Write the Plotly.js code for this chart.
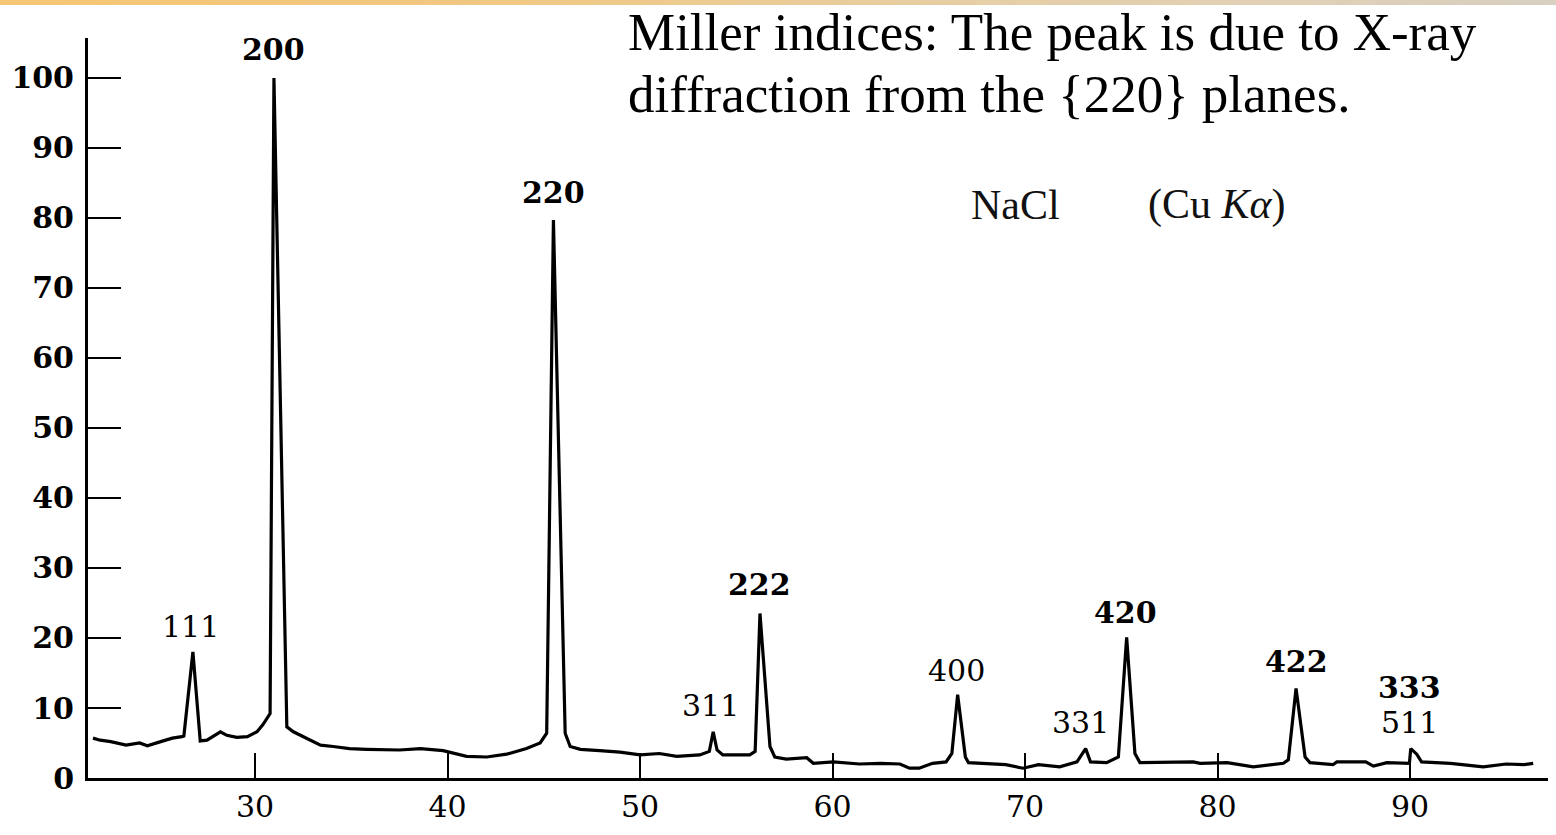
<!DOCTYPE html>
<html>
<head>
<meta charset="utf-8">
<script src="https://cdn.plot.ly/plotly-3.0.1.min.js"></script>
<style>
  html, body { margin: 0; padding: 0; background: #ffffff; }
  #wrap { position: relative; width: 1556px; height: 835px; overflow: hidden; }
  #band { position: absolute; left: 0; top: 0; width: 1556px; height: 5px;
          background: linear-gradient(to right, #f5c673 0%, #f0c885 35%, #e6cfa8 65%, #d9d0c2 100%); z-index: 5; }
  #chart { position: absolute; left: 0; top: 0; width: 1556px; height: 835px; }
</style>
</head>
<body>
<div id="wrap">
  <div id="chart"></div>
  <div id="band"></div>
</div>
<script>
// Diffraction angle 2θ (degrees)
const twoTheta = [
  21.58, 21.95, 22.5, 23.3, 24.0, 24.4, 25.1, 25.7, 26.2, 26.3, 26.77, 27.15, 27.5, 28.2, 28.53,
  29.05, 29.6, 30.1, 30.4, 30.78, 30.98, 31.65, 31.99, 32.68, 33.4, 34.06, 34.9, 35.8, 37.5,
  38.6, 39.77, 40.99, 42.04, 43.07, 44.1, 44.81, 45.15, 45.5, 46.11, 46.37, 46.9, 47.9, 48.96,
  50.0, 51.0, 51.91, 53.1, 53.6, 53.8, 54.0, 54.3, 54.8, 55.7, 55.98, 56.23, 56.75, 57.0, 57.6,
  58.66, 59.0, 60.04, 61.4, 62.5, 63.5, 64.0, 64.5, 65.2, 65.9, 66.2, 66.5, 66.9, 67.06, 68.0,
  69.0, 69.9, 70.7, 71.8, 72.7, 73.15, 73.4, 74.24, 74.85, 75.28, 75.71, 75.97, 77.36, 78.74,
  79.1, 80.5, 81.86, 83.42, 83.68, 84.08, 84.55, 84.8, 86.0, 86.2, 87.7, 88.1, 88.8, 89.97,
  90.04, 90.35, 90.6, 92.1, 93.8, 95.0, 95.9, 96.4
];
// Relative intensity
const intensity = [
  5.7, 5.4, 5.2, 4.7, 5.0, 4.6, 5.2, 5.7, 5.9, 6.0, 18.0, 5.3, 5.4, 6.6, 6.1,
  5.8, 5.9, 6.6, 7.6, 9.2, 100, 7.3, 6.6, 5.7, 4.7, 4.5, 4.2, 4.1, 4.0,
  4.2, 3.9, 3.1, 3.0, 3.4, 4.2, 5.0, 6.4, 79.7, 6.4, 4.5, 4.1, 3.9, 3.7,
  3.3, 3.5, 3.1, 3.3, 3.8, 6.6, 4.0, 3.3, 3.3, 3.3, 3.8, 23.5, 4.5, 3.0, 2.7,
  2.9, 2.1, 2.3, 2.0, 2.1, 2.0, 1.4, 1.4, 2.1, 2.3, 3.5, 11.9, 3.0, 2.2, 2.1,
  1.9, 1.4, 1.9, 1.6, 2.3, 4.2, 2.3, 2.2, 3.0, 20.1, 3.5, 2.2, 2.2, 2.3,
  2.1, 2.2, 1.6, 2.1, 2.6, 12.8, 3.0, 2.2, 1.9, 2.3, 2.3, 1.7, 2.2, 2.1,
  4.2, 3.4, 2.3, 2.1, 1.6, 2.0, 1.9, 2.1
];
// Miller index labels and where they sit (2θ, intensity)
const peakLabels = ["111", "200", "220", "311", "222", "400", "331", "420", "422", "333", "511"];
const peakLabelX = [26.62, 30.98, 45.5, 53.64, 56.23, 66.45, 72.86, 75.2, 84.1, 90.0, 90.0];
const peakLabelY = [21.6, 104.0, 83.6, 10.3, 27.6, 15.4, 7.9, 23.6, 16.6, 13.0, 7.9];
const peakLabelBold = [false, true, true, false, true, false, false, true, true, true, false];

const xTickVals = [30, 40, 50, 60, 70, 80, 90];
const yTickVals = [0, 10, 20, 30, 40, 50, 60, 70, 80, 90, 100];

const trace = {
  x: twoTheta, y: intensity, type: 'scatter', mode: 'lines',
  line: { color: '#000000', width: 3.2 }, hoverinfo: 'skip', showlegend: false, cliponaxis: false
};

const annotations = peakLabels.map((t, i) => ({
  x: peakLabelX[i], y: peakLabelY[i], xref: 'x', yref: 'y',
  text: peakLabelBold[i] ? '<b>' + t + '</b>' : t,
  showarrow: false, xanchor: 'center', yanchor: 'middle',
  font: { family: 'DejaVu Serif', size: 30, color: '#000000' }
}));

annotations.push({
  x: 69.53, y: 81.9, xref: 'x', yref: 'y', text: 'NaCl', showarrow: false,
  xanchor: 'center', yanchor: 'middle',
  font: { family: 'Liberation Serif', size: 42, color: '#111111' }
});
annotations.push({
  x: 79.97, y: 81.9, xref: 'x', yref: 'y', text: '(Cu <i>K</i><i>α</i>)', showarrow: false,
  xanchor: 'center', yanchor: 'middle',
  font: { family: 'Liberation Serif', size: 42, color: '#111111' }
});
annotations.push({
  x: 0.3685, y: 1.008, xref: 'paper', yref: 'paper',
  text: 'Miller indices: The peak is due to X-ray', showarrow: false,
  xanchor: 'left', yanchor: 'middle',
  font: { family: 'Liberation Serif', size: 53, color: '#000000' }
});
annotations.push({
  x: 0.3685, y: 0.9243, xref: 'paper', yref: 'paper',
  text: 'diffraction from the {220} planes.', showarrow: false,
  xanchor: 'left', yanchor: 'middle',
  font: { family: 'Liberation Serif', size: 53, color: '#000000' }
});

const layout = {
  width: 1556, height: 835,
  margin: { l: 88, r: 8, t: 38, b: 57, pad: 0 },
  paper_bgcolor: '#ffffff', plot_bgcolor: '#ffffff',
  showlegend: false,
  xaxis: {
    range: [21.32, 97.17], tickmode: 'array', tickvals: xTickVals,
    ticktext: xTickVals.map(String),
    ticks: 'inside', ticklen: 25, tickwidth: 2, tickcolor: '#000000',
    showline: true, linewidth: 3, linecolor: '#000000',
    showgrid: false, zeroline: false, ticklabelstandoff: 0,
    tickfont: { family: 'DejaVu Serif', size: 30, color: '#000000' }
  },
  yaxis: {
    range: [0, 105.71], tickmode: 'array', tickvals: yTickVals,
    ticktext: yTickVals.map(String),
    ticks: 'inside', ticklen: 33, tickwidth: 2, tickcolor: '#000000',
    showline: true, linewidth: 3, linecolor: '#000000',
    showgrid: false, zeroline: false, ticklabelstandoff: 5,
    tickfont: { family: 'DejaVu Serif', size: 30, color: '#000000', weight: 'bold' }
  },
  annotations: annotations
};

Plotly.newPlot('chart', [trace], layout, { displayModeBar: false, staticPlot: true });
</script>
</body>
</html>
